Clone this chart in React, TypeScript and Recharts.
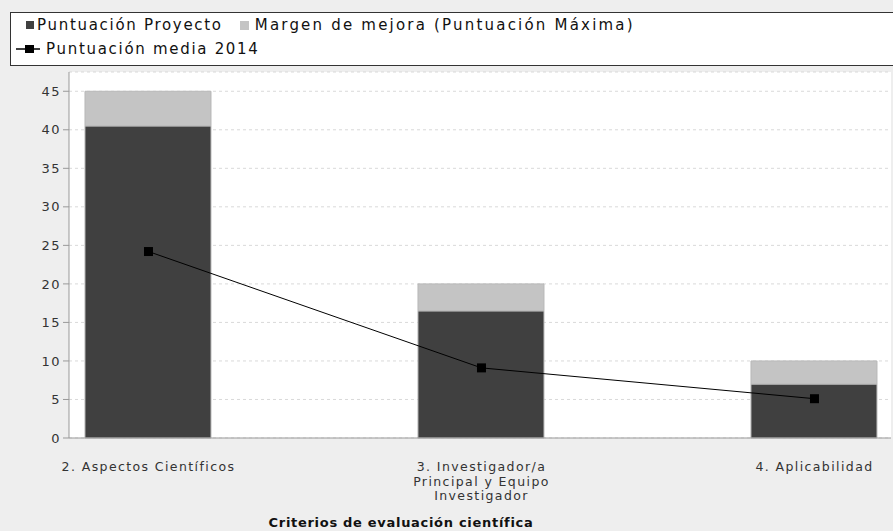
import { Bar, CartesianGrid, ComposedChart, Label, Line, XAxis, YAxis } from "recharts";

const categories = ["2. Aspectos Científicos", "3. Investigador/a Principal y Equipo Investigador", "4. Aplicabilidad"];
const tickLines = [["2. Aspectos Científicos"], ["3. Investigador/a", "Principal y Equipo", "Investigador"], ["4. Aplicabilidad"]];
const projectScores = [40.5, 16.5, 7];
const maxScores = [45, 20, 10];
const average2014 = [24.2, 9.1, 5.1];
const yTicks = [0, 5, 10, 15, 20, 25, 30, 35, 40, 45];

const data = categories.map((name, i) => ({
  idx: i,
  name,
  project: projectScores[i],
  margin: maxScores[i] - projectScores[i],
  avg: average2014[i],
}));

const font = "'DejaVu Sans', sans-serif";

function CategoryTick(props: any) {
  const { x, y, payload } = props;
  const lines = tickLines[payload.value] || [];
  return (
    <text x={x} y={y} textAnchor="middle" fontFamily={font} fontSize={12.5} fill="#333" letterSpacing={1.4}>
      {lines.map((l, i) => (
        <tspan key={i} x={x} y={y + 25 + i * 14.5}>{l}</tspan>
      ))}
    </text>
  );
}

function Square(props: any) {
  const { cx, cy, index } = props;
  return <rect key={index} x={cx - 4.5} y={cy - 4.5} width={9} height={9} fill="#000" />;
}

export default function App() {
  return (
    <div style={{ position: "fixed", left: 0, top: 0, width: 893, height: 531, overflow: "hidden", background: "#eeeeee" }}>
      <ComposedChart width={893} height={531} data={data} margin={{ top: 72, right: 2, bottom: 0, left: 0 }}>
        <CartesianGrid vertical={false} fill="#ffffff" stroke="#d9d9d9" strokeDasharray="3 3" />
        <XAxis
          dataKey="idx"
          type="number"
          domain={[-0.2387, 2.2298]}
          ticks={[0, 1, 2]}
          allowDataOverflow
          height={93}
          tickLine={false}
          stroke="#999"
          tick={<CategoryTick />}
        >
          <Label
            content={() => (
              <text x={401} y={527} textAnchor="middle" fontFamily={font} fontSize={13} fontWeight="bold" fill="#111" letterSpacing={0.7}>
                Criterios de evaluación científica
              </text>
            )}
          />
        </XAxis>
        <YAxis
          width={69}
          domain={[0, 47.5]}
          ticks={yTicks}
          tickSize={6}
          stroke="#999"
          tick={{ fill: "#333", fontFamily: font, fontSize: 13, letterSpacing: 1.5 }}
        />
        <Bar dataKey="project" stackId="a" barSize={126} fill="#404040" stroke="#b8b8b8" strokeWidth={1} isAnimationActive={false} />
        <Bar dataKey="margin" stackId="a" barSize={126} fill="#c4c4c4" stroke="#b8b8b8" strokeWidth={1} isAnimationActive={false} />
        <Line dataKey="avg" type="linear" stroke="#000" strokeWidth={1} dot={<Square />} activeDot={false} isAnimationActive={false} />
      </ComposedChart>
      <div
        style={{
          position: "absolute",
          left: 10,
          top: 12,
          width: 900,
          height: 52,
          border: "1.5px solid #333",
          background: "#fff",
          fontFamily: font,
          fontSize: 15,
          letterSpacing: 1.7,
          color: "#111",
        }}
      >
        <div style={{ position: "absolute", left: 15, top: 3, whiteSpace: "nowrap", display: "flex", alignItems: "center" }}>
          <span style={{ display: "inline-block", width: 8, height: 8, background: "#404040", marginRight: 3 }} />
          <span>Puntuación Proyecto</span>
          <span style={{ display: "inline-block", width: 9, height: 9, background: "#c4c4c4", marginLeft: 17, marginRight: 6 }} />
          <span style={{ letterSpacing: 2.2 }}>Margen de mejora (Puntuación Máxima)</span>
        </div>
        <div style={{ position: "absolute", left: 5, top: 27, whiteSpace: "nowrap", display: "flex", alignItems: "center" }}>
          <svg width={26} height={10} style={{ marginRight: 4 }}>
            <line x1={0} y1={5} x2={24} y2={5} stroke="#000" strokeWidth={1.5} />
            <rect x={9} y={1} width={9} height={8} fill="#000" />
          </svg>
          <span>Puntuación media 2014</span>
        </div>
      </div>
    </div>
  );
}
